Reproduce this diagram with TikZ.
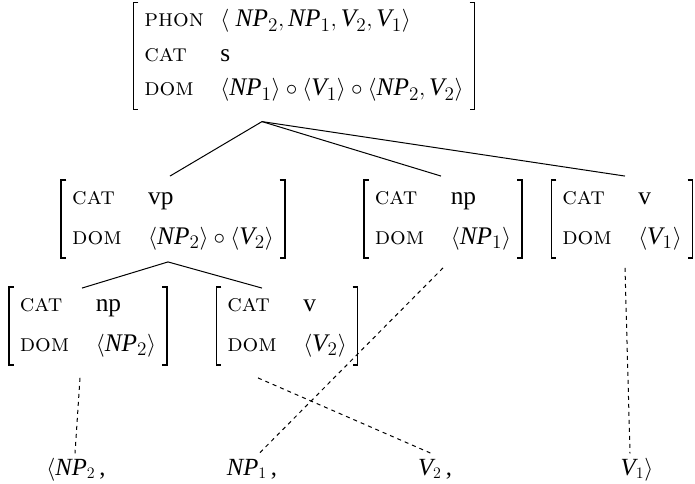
\documentclass[tikz,border=0pt]{standalone}
\usepackage{fontspec}
\setmainfont{Liberation Serif}
\usetikzlibrary{calc}

\newcommand\feat[1]{\makebox[57pt][l]{\fontfamily{lmr}\fontsize{18.5}{20}\selectfont\scshape #1}}
\newcommand\cst[2]{\ensuremath{\textit{#1}_{#2}}}
\newcommand\avm[1]{\begin{tabular}{@{}l@{}l@{}}#1\end{tabular}}

\begin{document}
\begin{tikzpicture}[x=0.75pt,y=0.75pt,yscale=-1,xscale=1,
  avmbox/.style={inner xsep=8pt,inner ysep=4pt,font=\fontsize{19}{20}\selectfont},
  avmbracket/.style={line width=1.2pt},
  word/.style={inner sep=0.75pt,anchor=base,font=\fontsize{18.5}{20}\selectfont},
  branch/.style={line width=0.75},
  trace/.style={line width=0.75,dashed}]
\useasboundingbox (0,0) rectangle (695,484);

% Feature structures
\node[avmbox] (top) at (304,56) {\avm{\feat{phon} & $\langle\;\cst{NP}{2},\cst{NP}{1},\cst{V}{2},\cst{V}{1}\rangle$ \\[6pt]
  \feat{cat} & s \\[6pt]
  \feat{dom} & $\langle\cst{NP}{1}\rangle\circ\langle\cst{V}{1}\rangle\circ\langle\cst{NP}{2},\cst{V}{2}\rangle$}};
\node[avmbox] (vp) at (173,219) {\avm{\feat{cat} & vp \\[10pt]
  \feat{dom} & $\langle\cst{NP}{2}\rangle\circ\langle\cst{V}{2}\rangle$}};
\node[avmbox] (np1) at (443,219) {\avm{\feat{cat} & np \\[10pt]
  \feat{dom} & $\langle\cst{NP}{1}\rangle$}};
\node[avmbox] (v1) at (622,219) {\avm{\feat{cat} & v \\[10pt]
  \feat{dom} & $\langle\cst{V}{1}\rangle$}};
\node[avmbox] (np2) at (88,326) {\avm{\feat{cat} & np \\[10pt]
  \feat{dom} & $\langle\cst{NP}{2}\rangle$}};
\node[avmbox] (v2) at (287,326) {\avm{\feat{cat} & v \\[10pt]
  \feat{dom} & $\langle\cst{V}{2}\rangle$}};

% Brackets
\foreach \n in {top,vp,np1,v1,np2,v2}{
  \draw[avmbracket] ($(\n.north west)+(5,0)$) -- (\n.north west) -- (\n.south west) -- ($(\n.south west)+(5,0)$);
  \draw[avmbracket] ($(\n.north east)+(-5,0)$) -- (\n.north east) -- (\n.south east) -- ($(\n.south east)+(-5,0)$);
}

% Text Node
\node[word] (wnp2) at (76,475) {$\langle$\cst{NP}{2}\,,};
\node[word] (wnp1) at (252,475) {\cst{NP}{1}\,,};
\node[word] (wv2) at (435,475) {\cst{V}{2}\,,};
\node[word] (wv1) at (637,475) {\cst{V}{1}$\rangle$};

% forks
\coordinate (topfork) at ($(top.south)+(-42,12)$);
\coordinate (vpfork) at ($(vp.south)+(-5,4)$);

%Straight Lines
\draw[branch] (topfork) -- ($(vp.north)+(-3,-4)$);
\draw[branch] (topfork) -- ($(np1.north)+(-2,-4)$);
\draw[branch] (topfork) -- ($(v1.north)+(3,-4)$);
\draw[branch] (vpfork) -- ($(np2.north)+(-6,1)$);
\draw[branch] (vpfork) -- ($(v2.north)+(-25,1)$);

%Dashed Lines
\draw[trace] ($(np2.south)+(-8,13)$) -- ($(wnp2.north)+(-1,-3)$);
\draw[trace] ($(v2.south)+(-29,13)$) -- ($(wv2.north)+(-1,-3)$);
\draw[trace] ($(np1.south)+(0,10)$) -- ($(wnp1.north)+(6,-3)$);
\draw[trace] ($(v1.south)+(3,10)$) -- ($(wv1.north)+(-7,-3)$);

\end{tikzpicture}
\end{document}
